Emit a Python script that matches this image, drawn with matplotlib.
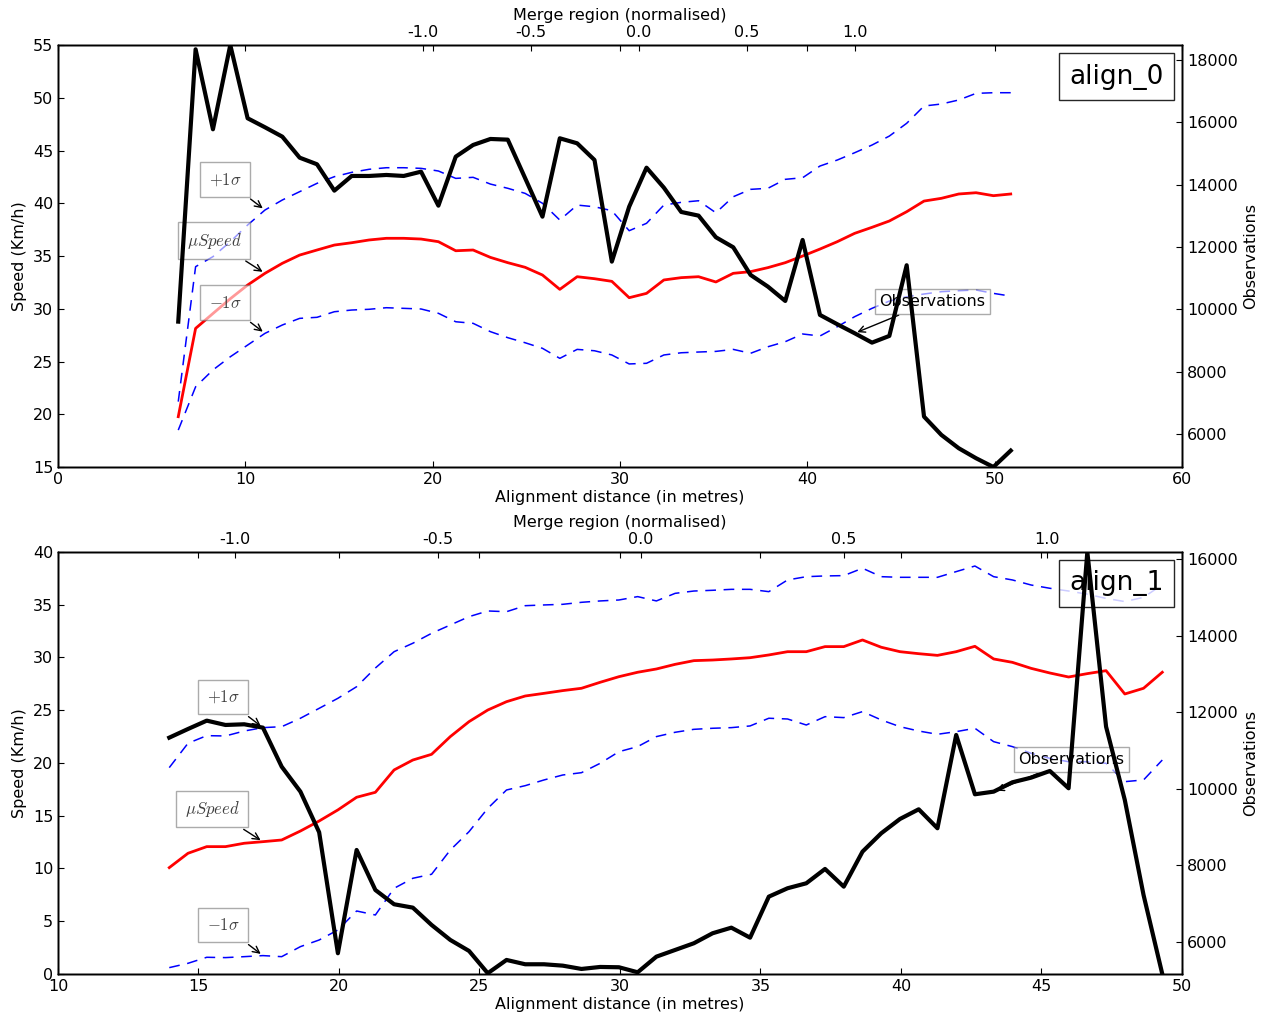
import numpy as np
import matplotlib
matplotlib.use('Agg')
import matplotlib.pyplot as plt
from matplotlib.offsetbox import AnchoredText
from matplotlib.ticker import FormatStrFormatter

# Speed / observation profiles along two merge alignments

plt.rcParams['mathtext.fontset'] = 'cm'
plt.rcParams['axes.unicode_minus'] = False
plt.rcParams['font.size'] = 11.5

# ---- align_0 ----
dist_0 = np.linspace(6.42, 50.86, 49)
speed_0 = [19.77, 28.14, 29.55, 30.95, 32.25, 33.36, 34.31, 35.09, 35.57, 36.04,
           36.26, 36.52, 36.68, 36.68, 36.61, 36.36, 35.5, 35.57, 34.87, 34.37,
           33.93, 33.2, 31.84, 33.04, 32.85, 32.6, 31.05, 31.46, 32.73, 32.95,
           33.04, 32.54, 33.36, 33.52, 33.9, 34.37, 35.0, 35.66, 36.36, 37.15,
           37.72, 38.32, 39.2, 40.21, 40.47, 40.88, 41.0, 40.72, 40.88]
upper_0 = [21.2, 33.99, 34.94, 36.36, 37.94, 39.36, 40.31, 41.1, 41.89, 42.52,
           42.93, 43.22, 43.37, 43.37, 43.31, 43.06, 42.36, 42.46, 41.82, 41.42,
           40.94, 40.0, 38.41, 39.83, 39.67, 39.3, 37.4, 38.1, 39.83, 40.09,
           40.24, 39.1, 40.62, 41.32, 41.42, 42.27, 42.42, 43.53, 44.1, 44.79,
           45.52, 46.37, 47.58, 49.22, 49.41, 49.79, 50.42, 50.48, 50.48]
lower_0 = [18.5, 22.6, 24.2, 25.45, 26.56, 27.67, 28.46, 29.09, 29.19, 29.72,
           29.88, 29.95, 30.1, 30.04, 29.98, 29.57, 28.77, 28.62, 27.83, 27.26,
           26.78, 26.25, 25.3, 26.15, 26.02, 25.62, 24.77, 24.83, 25.62, 25.83,
           25.9, 25.96, 26.15, 25.78, 26.4, 26.88, 27.61, 27.42, 28.3, 29.25,
           30.04, 30.73, 31.14, 31.4, 31.62, 31.71, 31.78, 31.46, 31.2]
obs_0 = [9605, 18343, 15777, 18480, 16130, 15841, 15540, 14866, 14654, 13808,
         14279, 14279, 14311, 14279, 14417, 13326, 14898, 15273, 15466, 15444,
         14210, 12973, 15488, 15327, 14792, 11530, 13294, 14545, 13904, 13124,
         13006, 12312, 11991, 11103, 10728, 10268, 12226, 9820, 9521, 9232,
         8931, 9146, 11414, 6557, 5970, 5543, 5222, 4940, 5466]

# ---- align_1 ----
dist_1 = np.linspace(13.96, 49.3, 54)
speed_1 = [10.08, 11.44, 12.07, 12.07, 12.39, 12.54, 12.7, 13.55, 14.5, 15.55,
           16.75, 17.22, 19.34, 20.28, 20.82, 22.5, 23.92, 25.02, 25.81, 26.35,
           26.6, 26.86, 27.08, 27.65, 28.18, 28.6, 28.91, 29.35, 29.7, 29.76,
           29.86, 29.98, 30.24, 30.55, 30.55, 31.03, 31.03, 31.66, 30.97, 30.55,
           30.36, 30.2, 30.55, 31.06, 29.86, 29.54, 28.97, 28.53, 28.15, 28.47,
           28.75, 26.54, 27.08, 28.6]
upper_1 = [19.56, 21.87, 22.59, 22.56, 23.03, 23.35, 23.44, 24.24, 25.18, 26.13,
           27.23, 29.0, 30.55, 31.35, 32.29, 33.08, 33.87, 34.41, 34.34, 34.91,
           34.98, 35.04, 35.23, 35.36, 35.45, 35.77, 35.36, 36.08, 36.3, 36.37,
           36.46, 36.46, 36.24, 37.35, 37.66, 37.73, 37.76, 38.46, 37.66, 37.6,
           37.6, 37.6, 38.14, 38.67, 37.66, 37.35, 36.87, 36.56, 36.3, 36.0,
           35.6, 35.3, 35.7, 36.9]
lower_1 = [0.6, 1.01, 1.58, 1.55, 1.64, 1.74, 1.64, 2.59, 3.22, 4.17,
           5.97, 5.59, 8.12, 9.07, 9.45, 11.75, 13.49, 15.7, 17.44, 17.85,
           18.39, 18.86, 19.08, 19.97, 21.07, 21.55, 22.5, 22.91, 23.19, 23.29,
           23.35, 23.51, 24.24, 24.17, 23.6, 24.39, 24.3, 24.87, 24.08, 23.44,
           23.03, 22.72, 22.97, 23.29, 22.02, 21.55, 20.92, 20.44, 20.12, 20.12,
           19.97, 18.23, 18.39, 20.28]
obs_1 = [11335, 11561, 11779, 11666, 11684, 11596, 10577, 9925, 8864, 5705,
         8402, 7357, 6984, 6896, 6444, 6052, 5765, 5183, 5530, 5417,
         5417, 5381, 5295, 5347, 5339, 5208, 5616, 5791, 5966, 6227,
         6373, 6112, 7183, 7402, 7532, 7906, 7444, 8358, 8838, 9211,
         9464, 8969, 11405, 9856, 9925, 10169, 10290, 10465, 10013, 16183,
         11622, 9707, 7227, 5164]

merge_ticks = [-1.0, -0.5, 0.0, 0.5, 1.0]


def draw_panel(rect, name, dist, speed, upper, lower, obs, xlim, ylim, xstep,
               obs_ticks, merge_centre, merge_half, obs_idx):
    ax = fig.add_axes(rect)
    ax.plot(dist, upper, color='b', lw=1.1, ls='--', dashes=(7, 5))
    ax.plot(dist, speed, color='r', lw=2)
    ax.plot(dist, lower, color='b', lw=1.1, ls='--', dashes=(7, 5))
    ax.set_xlim(xlim)
    ax.set_ylim(ylim)
    ax.set_xticks(np.arange(xlim[0], xlim[1] + 0.1, xstep))
    ax.set_yticks(np.arange(ylim[0], ylim[1] + 0.1, 5))
    ax.set_xlabel('Alignment distance (in metres)', labelpad=2)
    ax.set_ylabel('Speed (Km/h)')

    # observations on the right axis
    ax2 = ax.twinx()
    ax2.plot(dist, obs, color='k', lw=3)
    ax2.set_ylim(min(obs), max(obs))
    ax2.set_yticks(obs_ticks)
    ax2.set_ylabel('Observations')

    # normalised merge region on top
    ax3 = ax.twiny()
    ax3.set_xlim((xlim[0] - merge_centre) / merge_half,
                 (xlim[1] - merge_centre) / merge_half)
    ax3.set_xticks(merge_ticks)
    ax3.xaxis.set_major_formatter(FormatStrFormatter('%.1f'))
    ax3.set_xlabel('Merge region (normalised)')

    for a in (ax, ax2, ax3):
        a.tick_params(direction='in', length=4, width=0.8, labelsize=11.5)
        for s in a.spines.values():
            s.set_linewidth(1.0)
    ax.tick_params(axis='x', top=True)

    box = dict(boxstyle='square,pad=0.5', fc='w', ec='0.45', alpha=0.6)
    arrow = dict(arrowstyle='->', color='k', lw=1)
    i = 5
    for lab, vals, dy in [(r'$+1\sigma$', upper, 22), (r'$\mu Speed$', speed, 23.5),
                          (r'$-1\sigma$', lower, 22)]:
        ax.annotate(lab, xy=(dist[i], vals[i]), xytext=(-17, dy),
                    textcoords='offset points', ha='right', va='center',
                    fontsize=12, color='0.25', bbox=box, arrowprops=arrow)

    ax.annotate('Observations', xy=(dist[obs_idx], obs[obs_idx]),
                xycoords=ax2.transData, xytext=(56, 23), textcoords='offset points',
                ha='center', va='center', fontsize=11.5,
                bbox=dict(boxstyle='square,pad=0.3', fc='w', ec='0.45', alpha=0.6),
                arrowprops=arrow)

    at = AnchoredText(name, loc='upper right', prop=dict(size=19), frameon=True,
                      pad=0.4, borderpad=0.3)
    at.patch.set_facecolor((1, 1, 1, 0.8))
    at.patch.set_edgecolor('0.15')
    at.patch.set_linewidth(1.0)
    ax.add_artist(at)
    return ax


fig = plt.figure(figsize=(12.69, 10.19), dpi=100)

draw_panel([0.0457, 0.5417, 0.8857, 0.4141], 'align_0', dist_0, speed_0, upper_0,
           lower_0, obs_0, (0, 60), (15, 55), 10, np.arange(6000, 18001, 2000),
           31.01, 11.51, 39)
draw_panel([0.0457, 0.0442, 0.8857, 0.4141], 'align_1', dist_1, speed_1, upper_1,
           lower_1, obs_1, (10, 50), (0, 40), 5, np.arange(6000, 16001, 2000),
           30.75, 14.45, 44)

plt.savefig('out.png', dpi=100, facecolor='w')
